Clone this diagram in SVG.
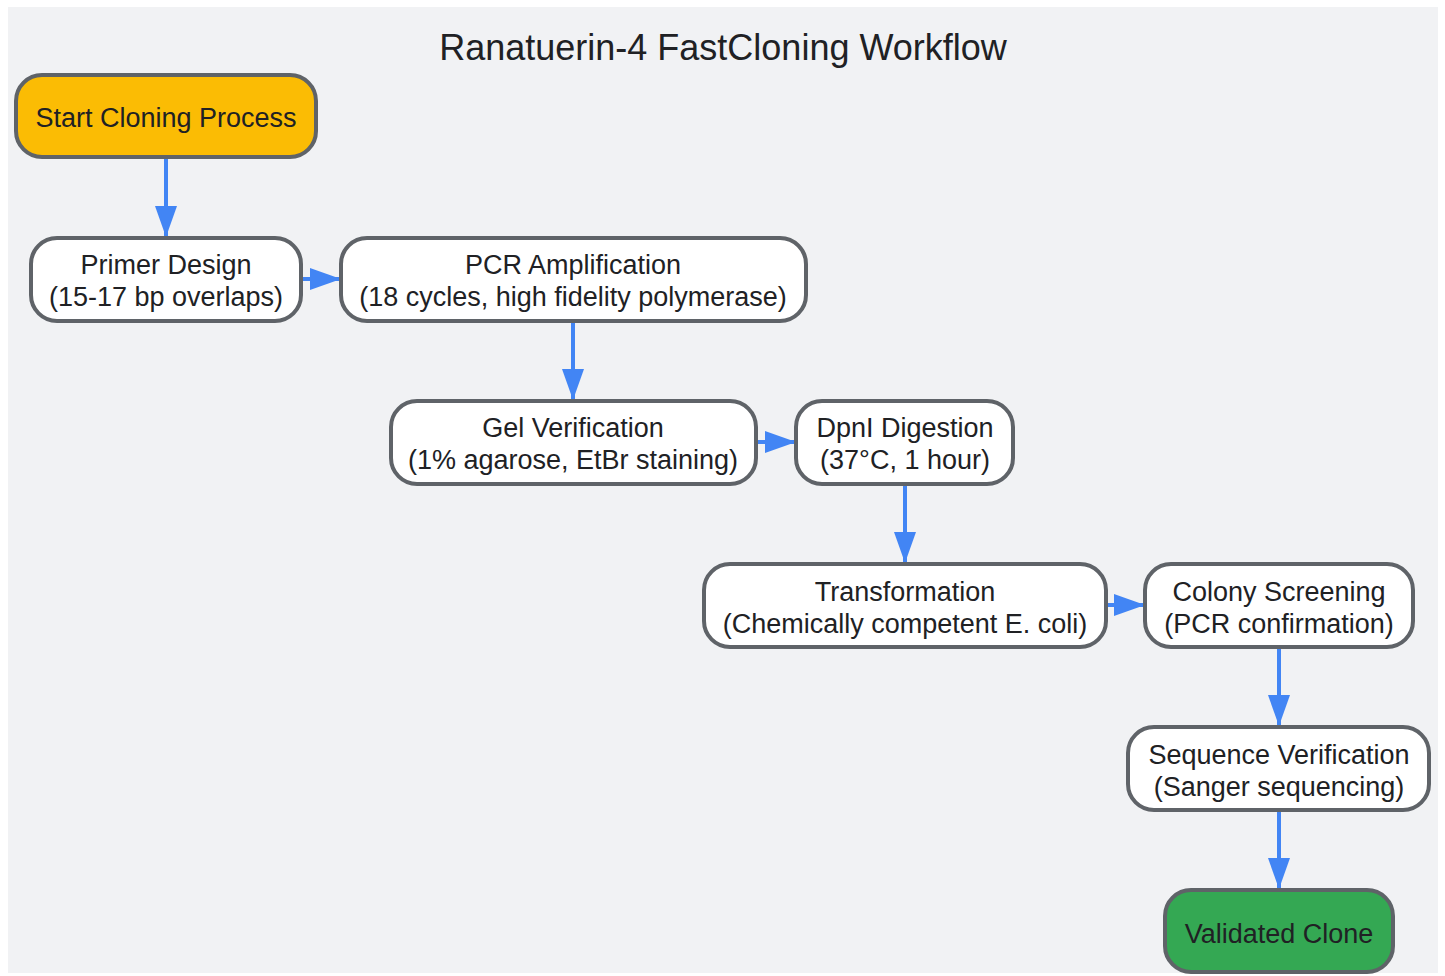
<svg xmlns="http://www.w3.org/2000/svg" width="1445" height="976" viewBox="0 0 1445 976">
<style>
.n rect{fill:#ffffff;stroke:#5f6368;stroke-width:4}
.n text,.t{font-family:"Liberation Sans",Arial,sans-serif;font-size:27px;fill:#202124;text-anchor:middle}
.t{font-size:36px}
.e line{stroke:#4285f4;stroke-width:4}
</style>
<defs>
<marker id="ah" markerUnits="userSpaceOnUse" markerWidth="32" markerHeight="22" refX="31" refY="11" orient="auto">
<path d="M0,0 L31,11 L0,22 z" fill="#4285f4"/>
</marker>
</defs>
<rect width="1445" height="976" fill="#ffffff"/>
<rect x="8" y="7" width="1430" height="966" fill="#f1f2f4"/>
<text class="t" x="723" y="60">Ranatuerin-4 FastCloning Workflow</text>
<g class="e">
<line x1="166" y1="158" x2="166" y2="237" marker-end="url(#ah)"/>
<line x1="302" y1="279" x2="341" y2="279" marker-end="url(#ah)"/>
<line x1="573" y1="322" x2="573" y2="400" marker-end="url(#ah)"/>
<line x1="757" y1="442" x2="796" y2="442" marker-end="url(#ah)"/>
<line x1="905" y1="485" x2="905" y2="563" marker-end="url(#ah)"/>
<line x1="1107" y1="605" x2="1145" y2="605" marker-end="url(#ah)"/>
<line x1="1279" y1="648" x2="1279" y2="726" marker-end="url(#ah)"/>
<line x1="1279" y1="811" x2="1279" y2="889" marker-end="url(#ah)"/>
</g>
<g id="start" class="n"><rect x="16" y="75" width="300" height="82" rx="26" style="fill:#fbbc04"/><text x="166" y="127">Start Cloning Process</text></g>
<g id="primer" class="n"><rect x="31" y="238" width="270" height="83" rx="26"/><text x="166" y="274">Primer Design</text><text x="166" y="306">(15-17 bp overlaps)</text></g>
<g id="pcr" class="n"><rect x="341" y="238" width="465" height="83" rx="26"/><text x="573" y="274">PCR Amplification</text><text x="573" y="306">(18 cycles, high fidelity polymerase)</text></g>
<g id="gel" class="n"><rect x="391" y="401" width="365" height="83" rx="26"/><text x="573" y="437">Gel Verification</text><text x="573" y="469">(1% agarose, EtBr staining)</text></g>
<g id="dpni" class="n"><rect x="796" y="401" width="217" height="83" rx="26"/><text x="905" y="437">DpnI Digestion</text><text x="905" y="469">(37°C, 1 hour)</text></g>
<g id="transformation" class="n"><rect x="704" y="564" width="402" height="83" rx="26"/><text x="905" y="601">Transformation</text><text x="905" y="633">(Chemically competent E. coli)</text></g>
<g id="colony" class="n"><rect x="1145" y="564" width="268" height="83" rx="26"/><text x="1279" y="601">Colony Screening</text><text x="1279" y="633">(PCR confirmation)</text></g>
<g id="sequence" class="n"><rect x="1128" y="727" width="301" height="83" rx="26"/><text x="1279" y="764">Sequence Verification</text><text x="1279" y="796">(Sanger sequencing)</text></g>
<g id="validated" class="n"><rect x="1165" y="890" width="228" height="82" rx="26" style="fill:#34a853"/><text x="1279" y="943">Validated Clone</text></g>
</svg>
